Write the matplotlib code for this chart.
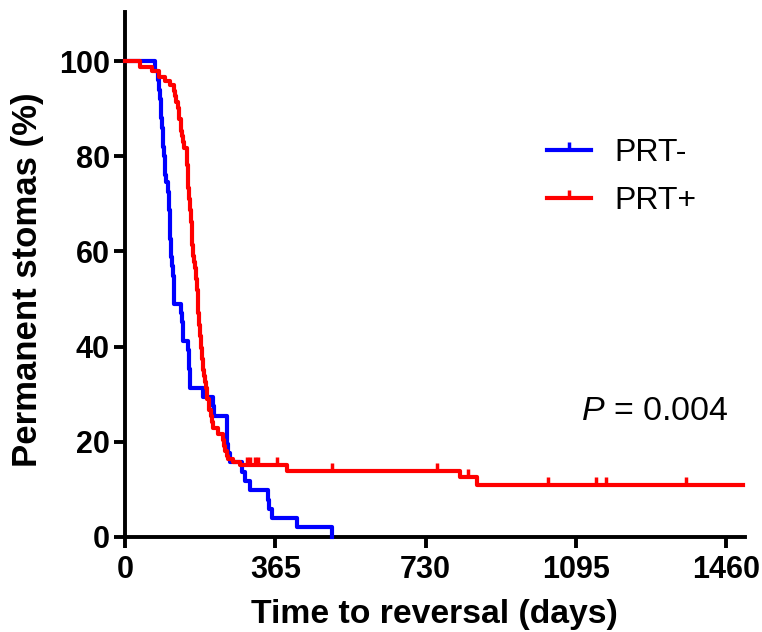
import numpy as np
import matplotlib
matplotlib.use('Agg')
import matplotlib.pyplot as plt
from matplotlib.lines import Line2D

# fonts
plt.rcParams['font.family'] = ['Liberation Sans', 'DejaVu Sans']
plt.rcParams['mathtext.fontset'] = 'custom'
plt.rcParams['mathtext.it'] = 'Liberation Sans:italic'
plt.rcParams['mathtext.rm'] = 'Liberation Sans'

# PRT- (step times in days, survival %)
blue_t = [0, 73, 80, 82.5, 84.5, 86.5, 88.5, 91, 92, 93, 95, 96, 97, 100, 104, 107, 108, 109,
          109.5, 110, 110.5, 111.5, 114.5, 117.5, 118, 118.5, 119, 137, 138, 140, 141, 153.5,
          154.5, 155.5, 157, 158, 190, 214.5, 215, 246.5, 247.5, 248.5, 249.5, 254.5, 283.5,
          292, 303, 347.5, 348.5, 356, 416.5, 502]
blue_s = [100, 98, 96, 94, 92, 90, 88, 86, 84, 82, 80, 78, 76, 74.5, 72.5, 70.5, 68.6, 66.7,
          64.7, 62.7, 60.8, 58.8, 56.9, 54.9, 52.9, 51, 49, 47, 45.1, 43.1, 41.2, 39.2,
          37.3, 35.3, 33.3, 31.4, 29.4, 27.5, 25.5, 23.5, 21.6, 19.6, 17.6, 15.7, 13.7,
          11.8, 9.8, 7.8, 5.9, 3.9, 2.0, 0]

# PRT+
red_t = [0, 36, 65, 82.5, 97, 109.5, 119.5, 121.5, 125, 128, 130, 132, 135, 137, 139, 141.5,
         143.5, 150.5, 151, 151.5, 152, 152.5, 153, 153.5, 154.5, 155.5, 157, 158, 160, 161,
         161.5, 162, 162.5, 163, 164, 166, 168, 170, 172, 173, 174, 175.5, 176.5, 177, 177.5,
         178, 178.5, 180.5, 181.5, 182.5, 183.5, 185.5, 186.5, 187.5, 188.5, 190, 192, 194,
         196, 198, 200, 203, 205, 209, 211.5, 214.5, 225, 238, 240, 242.5, 247.5, 250.5,
         263, 279.5, 393, 813.5, 854]
red_s = [100, 98.8, 97.8, 96.7, 95.7, 95.0, 93.8, 92.6, 91.4, 90.2, 89.0, 87.8, 86.6, 85.4, 84.2, 83.0,
         81.8, 80.6, 79.4, 78.2, 77.0, 75.8, 74.6, 73.4, 72.2, 71.0, 69.8, 68.6, 67.4, 66.2,
         65.0, 63.8, 62.6, 61.4, 60.2, 59.0, 57.8, 56.6, 55.4, 54.2, 53.0, 51.8, 50.6, 49.4, 48.2,
         47.0, 45.8, 44.6, 43.4, 42.2, 41.0, 39.8, 38.6, 37.4, 36.2, 35.0, 33.8, 32.6,
         31.4, 30.2, 29.0, 27.8, 26.6, 25.4, 24.2, 23.0, 21.6, 20.4, 19.2, 18.0, 17.0, 16.4,
         15.8, 15.1, 13.9, 12.7, 10.9]
red_end = 1501
red_censor = [295, 303, 315.5, 324, 368, 502, 758, 833, 1028, 1143, 1167.5, 1363]

xticks = [0, 365, 730, 1095, 1460]
yticks = [0, 20, 40, 60, 80, 100]

tick_up = [(0, 0), (0, 1)]

fig = plt.figure(figsize=(7.62, 6.32), dpi=100)
ax = fig.add_axes([125 / 762, 1 - 537 / 632, 620.3 / 762, 525 / 632])

ax.step(blue_t, blue_s, where='post', color='#0000FF', lw=3, clip_on=False, zorder=3)
ax.step(red_t + [red_end], red_s + [red_s[-1]], where='post', color='#FF0000', lw=3,
        clip_on=False, zorder=3)

# censor marks
idx = np.searchsorted(red_t, red_censor, side='right') - 1
cs = np.array(red_s)[idx]
ax.plot(red_censor, cs, ls='none', marker=tick_up, ms=11, mew=2.5, color='#FF0000', zorder=3)

ax.set_xlim(0, 1506)
ax.set_ylim(0, 110.3)
ax.set_xticks(xticks)
ax.set_yticks(yticks)
for s in ['top', 'right']:
    ax.spines[s].set_visible(False)
for s in ['left', 'bottom']:
    ax.spines[s].set_linewidth(2.8)
ax.tick_params(direction='out', length=8, width=2.8, labelsize=22)
ax.tick_params(axis='x', pad=5)
ax.tick_params(axis='y', pad=3)
for lab in ax.get_xticklabels() + ax.get_yticklabels():
    lab.set_fontweight('bold')

fig.text(434.5 / 762, 1 - 623.3 / 632, 'Time to reversal (days)', ha='center', va='baseline',
         fontsize=24.3, fontweight='bold')
fig.text(37 / 762, 1 - 280 / 632, 'Permanent stomas (%)', ha='center', va='baseline',
         rotation=90, rotation_mode='anchor', fontsize=25, fontweight='bold')

ax.text(1108, 24.6, r'$P$ = 0.004', fontsize=24.5, ha='left', va='baseline')

handles = [Line2D([], [], color='#0000FF', lw=3, marker=tick_up, ms=11, mew=2.5),
           Line2D([], [], color='#FF0000', lw=3, marker=tick_up, ms=11, mew=2.5)]
ax.legend(handles, ['PRT-', 'PRT+'], loc='upper left', bbox_to_anchor=(0.680, 0.760),
          frameon=False, fontsize=23, handlelength=1.38, handletextpad=0.74,
          labelspacing=0.56, borderpad=0, borderaxespad=0, numpoints=1)

fig.savefig('out.png', dpi=100)
